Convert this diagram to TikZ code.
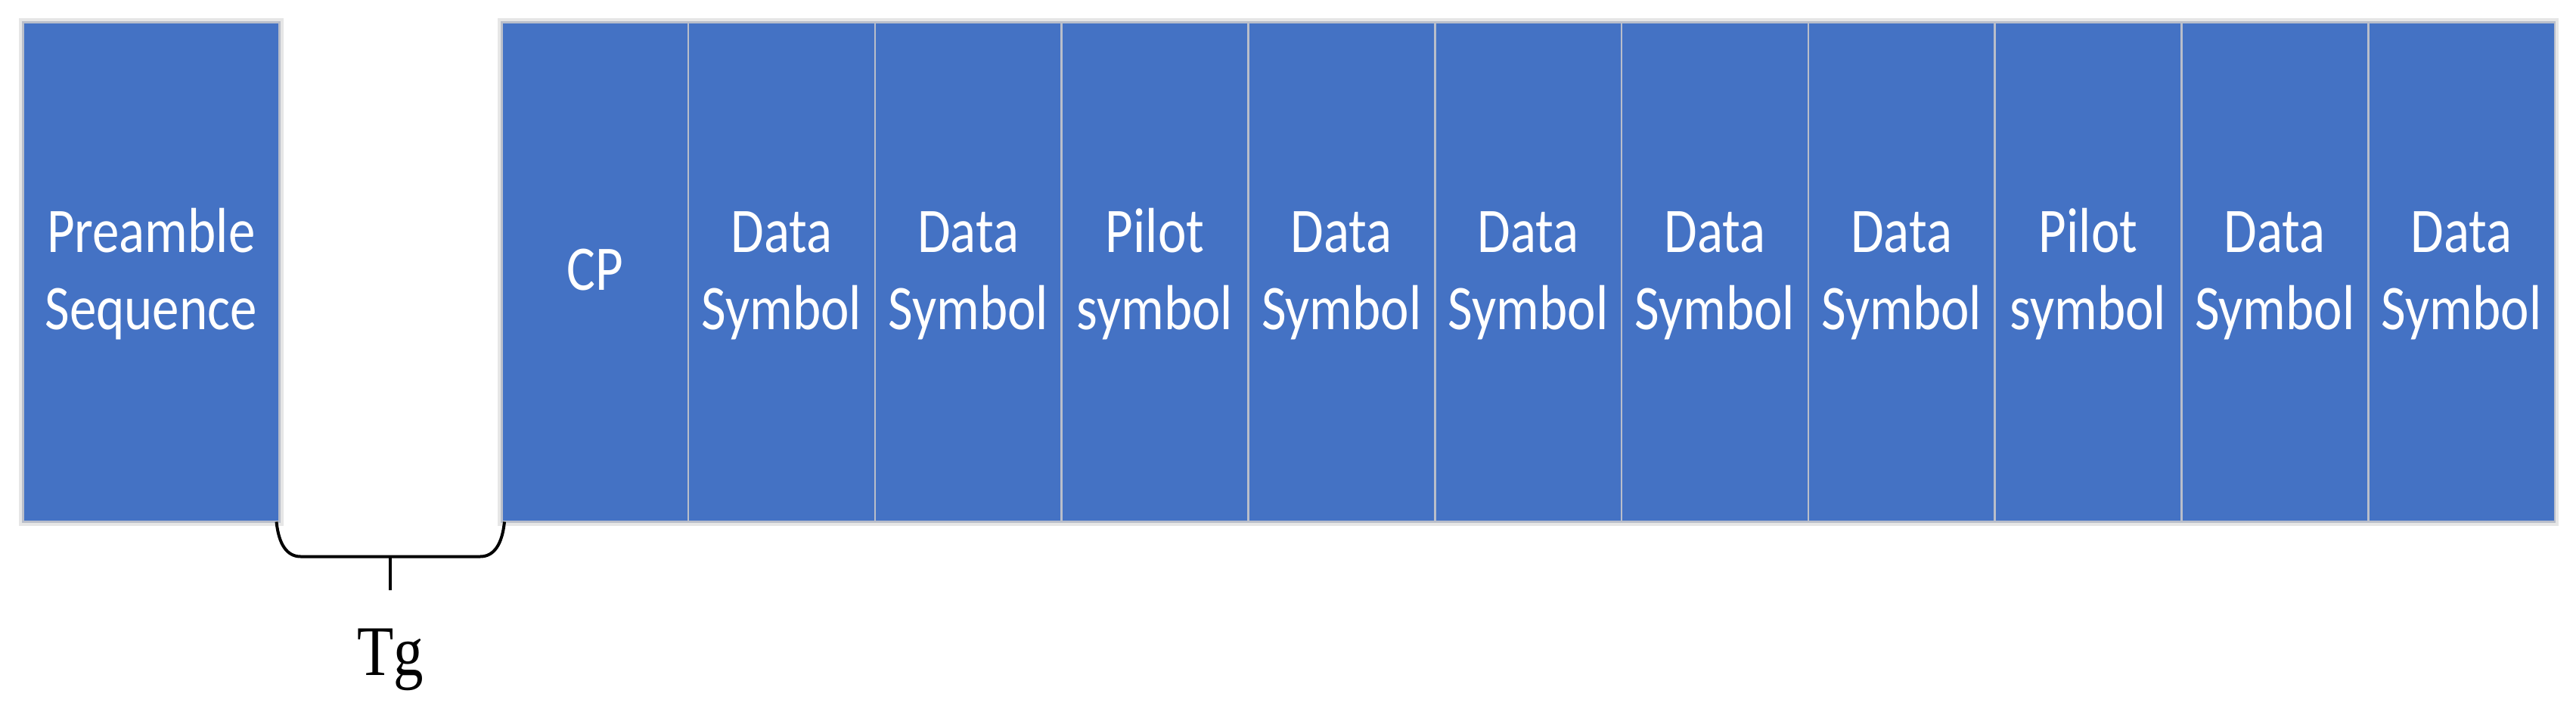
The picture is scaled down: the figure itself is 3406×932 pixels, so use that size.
\documentclass[tikz,border=0pt]{standalone}
\usepackage{fontspec}
\newfontfamily\cellfont[FakeStretch=0.845]{Carlito}
\newfontfamily\tgfont[FakeStretch=0.84]{Liberation Serif}
\usetikzlibrary{calc}
\definecolor{cellblue}{HTML}{4472C4}
\definecolor{cellline}{RGB}{185,190,202}
\definecolor{halo}{RGB}{230,230,230}
\newcommand\twoln[2]{\vtop{\halign{\hfil##\hfil\cr #1\cr #2\cr}}}
\pgfdeclarelayer{bg}
\pgfsetlayers{bg,main}
\begin{document}
\begin{tikzpicture}[x=1pt,y=-1pt,
  cellbox/.style={rectangle, fill=cellblue, draw=cellline, line width=2.5pt, inner sep=0pt,
    minimum width=246.8pt, minimum height=660pt, anchor=north west},
  celltxt/.style={text=white, font=\cellfont\fontsize{84}{102}\selectfont, inner sep=0pt, anchor=base},
  bracepath/.style={line width=4pt, black},
  tgtxt/.style={font=\tgfont\fontsize{94}{100}\selectfont, inner sep=0pt, anchor=base}]
\useasboundingbox (0,0) rectangle (3406,932);
\coordinate (row1) at (0,333);
\coordinate (rowc) at (0,383);
\coordinate (tgrow) at (0,892);

% preamble
\node[cellbox, minimum width=339pt] (pre) at (29,28) {};
\node[celltxt] (tpre) at (pre.center |- row1) {\twoln{Preamble}{Sequence}};

% symbol cells
\node[cellbox] (c1) at (662,28) {};
\node[celltxt] (t1) at (c1.center |- rowc) {CP};
\foreach \i/\a/\b in {2/Data/Symbol,3/Data/Symbol,4/Pilot/symbol,5/Data/Symbol,6/Data/Symbol,
  7/Data/Symbol,8/Data/Symbol,9/Pilot/symbol,10/Data/Symbol,11/Data/Symbol}{
  \node[cellbox] (c\i) at ({662+(\i-1)*246.8},28) {};
  \node[celltxt] (t\i) at (c\i.center |- row1) {\twoln{\a}{\b}};
}

\begin{pgfonlayer}{bg}
  \draw[halo, line width=8pt] (pre.north west) rectangle (pre.south east);
  \draw[halo, line width=8pt] (c1.north west) rectangle (c11.south east);
\end{pgfonlayer}

% guard interval brace
\coordinate (bl) at ($(pre.south east)+(-5,-1)$);
\coordinate (br) at ($(c1.south west)+(5,-1)$);
\coordinate (bm) at ($(bl)!0.5!(br)+(0,46)$);
\draw[bracepath] (bl) .. controls ($(bl)+(3,30)$) and ($(bl)+(14,46)$) .. ($(bl)+(32,46)$)
  -- ($(br)+(-32,46)$) .. controls ($(br)+(-14,46)$) and ($(br)+(-3,30)$) .. (br);
\node[tgtxt] (tg) at (bm |- tgrow) {Tg};
\draw[bracepath] (bm) -- ($(tg.north)+(0,-50)$);
\end{tikzpicture}
\end{document}
